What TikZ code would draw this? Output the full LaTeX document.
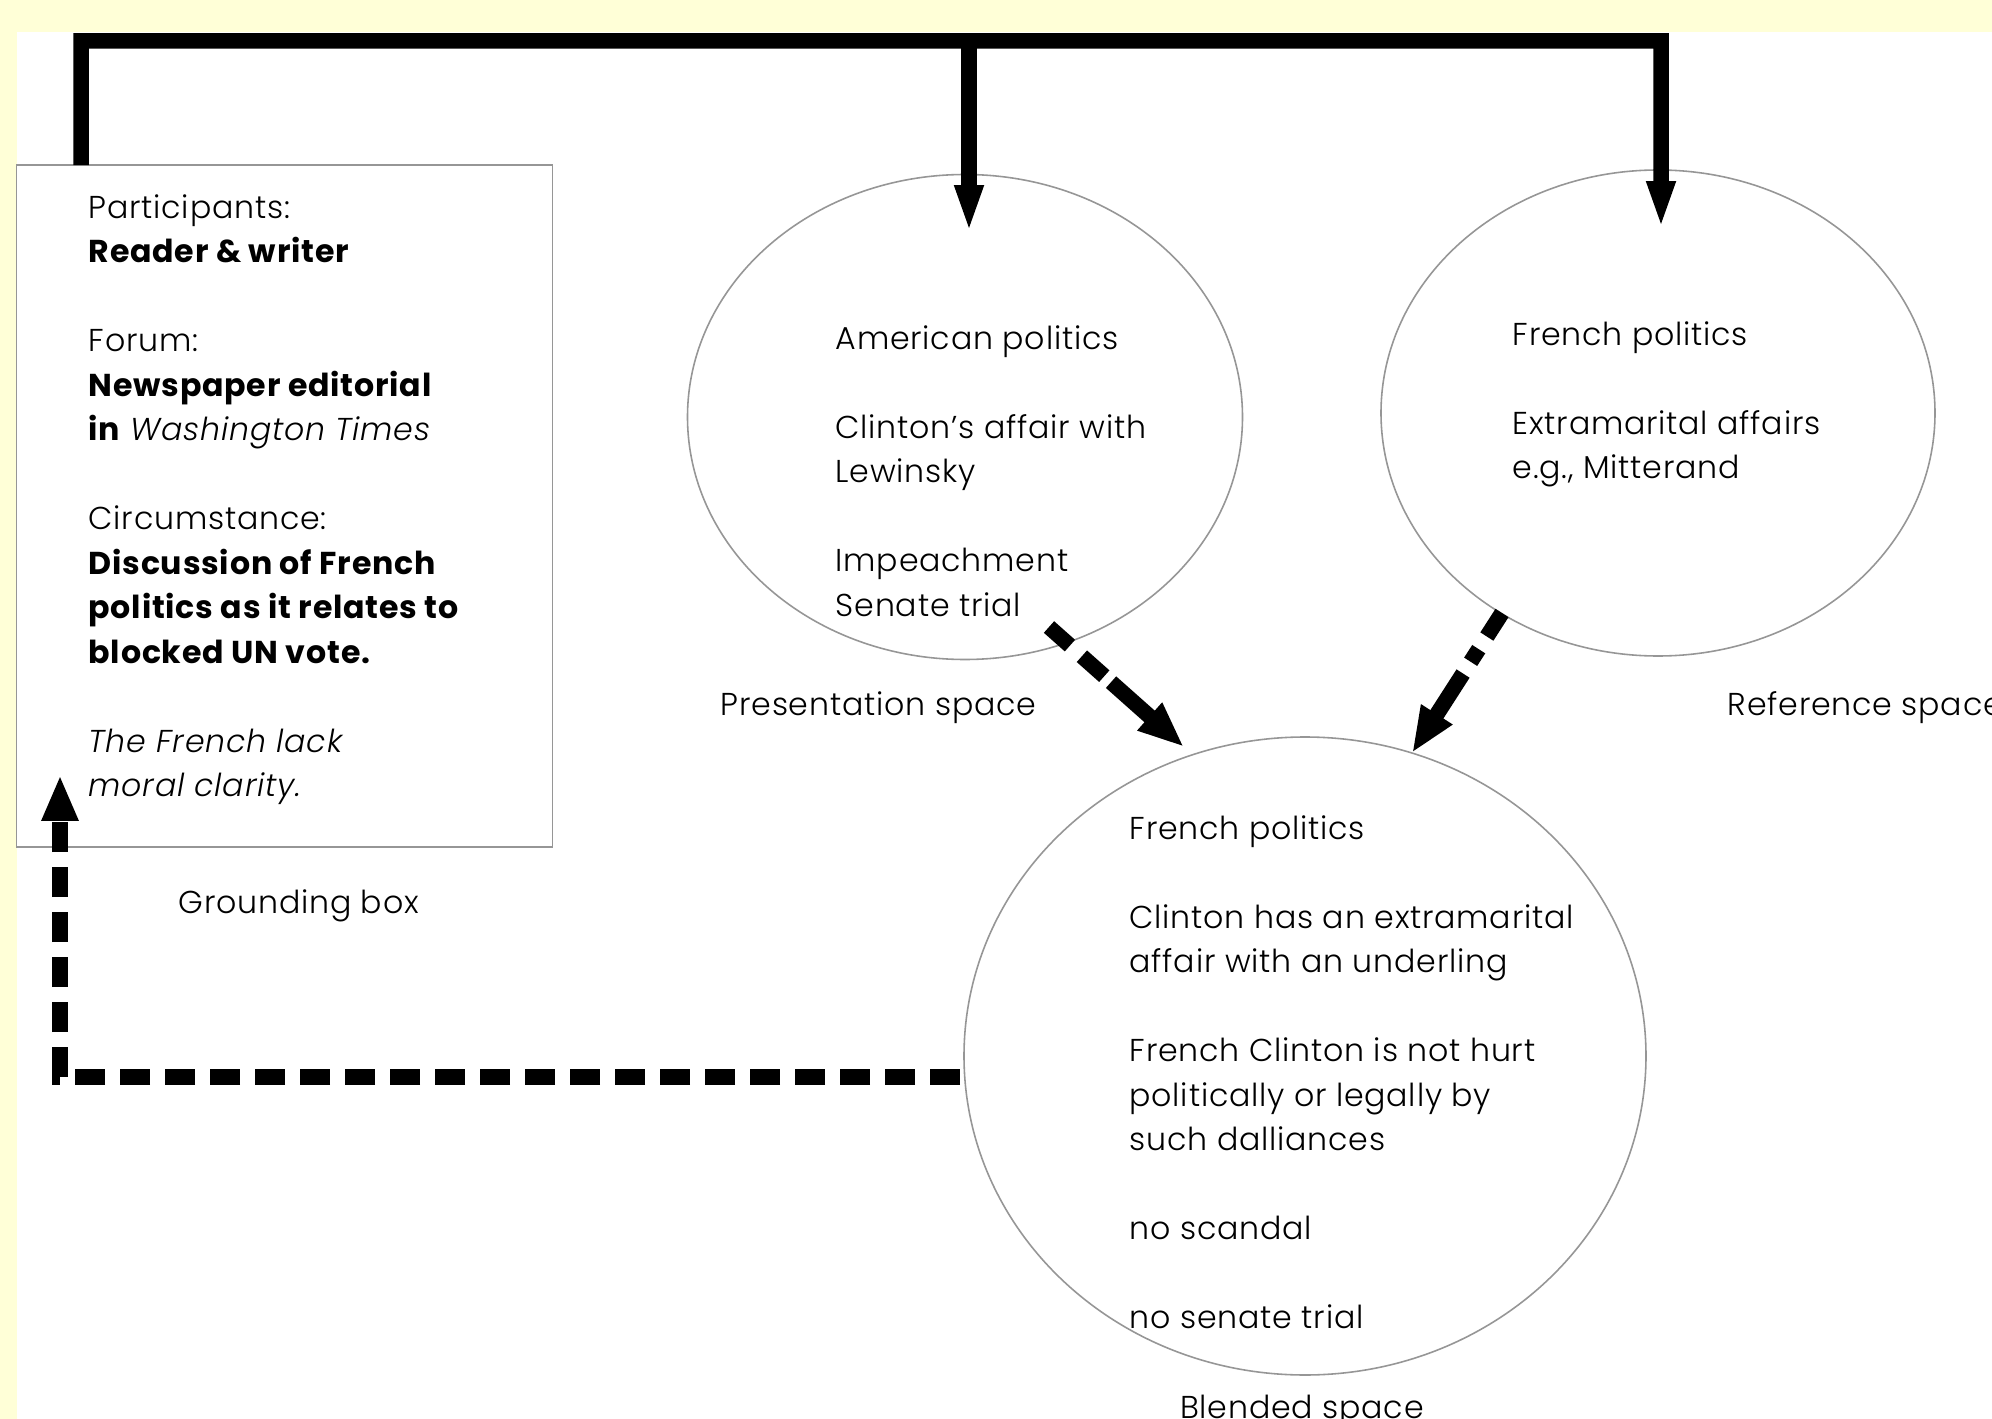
\documentclass[tikz,border=0pt]{standalone}
\usepackage{fontspec}
\setmainfont{Poppins}[LetterSpace=2.5, UprightFont=* Light, ItalicFont=* Light Italic, BoldFont=* Bold]
\usetikzlibrary{arrows.meta,shapes.geometric}
\definecolor{pagebg}{RGB}{255,255,215}
\definecolor{rimgray}{RGB}{150,150,150}
\tikzset{
  space/.style={draw=rimgray, line width=0.45pt, ellipse, inner sep=0pt, outer sep=0pt},
  txt/.style={font=\fontsize{9}{12.66}\selectfont, align=left, inner sep=0pt, anchor=north west},
  caption/.style={font=\fontsize{9}{12.66}\selectfont, inner sep=0pt, anchor=base west},
  feed/.style={line width=1.55mm, -{Triangle[length=4.8mm,width=2.6mm]}},
  back/.style={line width=1.55mm, -{Triangle[length=4.6mm,width=3.4mm]}}
}

\begin{document}
\begin{tikzpicture}[x=0.1mm, y=-0.1mm]
\clip (0,0) rectangle (1992,1419);
\fill[pagebg] (0,0) rectangle (1992,1419);
\fill[white] (17,32) rectangle (1992,1419);

% grounding box and the three spaces
\node[draw=rimgray, line width=0.45pt, minimum width=53.6mm, minimum height=68.2mm, inner sep=0pt, outer sep=0pt] (ground) at (284.5,506) {};
\node[space, minimum width=55.5mm, minimum height=48.5mm] (pres) at (965,417) {};
\node[space, minimum width=55.4mm, minimum height=48.6mm] (ref) at (1658,413) {};
\node[space, minimum width=68.2mm, minimum height=63.8mm] (blend) at (1305,1056) {};

\node[txt] (gtext) at (88,194) {Participants:\\
\textbf{Reader \& writer}\\[12.66pt]
Forum:\\
\textbf{Newspaper editorial}\\
\textbf{in} \textit{Washington Times}\\[12.66pt]
Circumstance:\\
\textbf{Discussion of French}\\
\textbf{politics as it relates to}\\
\textbf{blocked UN vote.}\\[12.66pt]
\textit{The French lack}\\
\textit{moral clarity.}};
\node[txt] (ptext) at (835,325) {American politics\\[12.66pt]
Clinton’s affair with\\
Lewinsky\\[12.66pt]
Impeachment\\
Senate trial};
\node[txt] (rtext) at (1512,321) {French politics\\[12.66pt]
Extramarital affairs\\
e.g., Mitterand};
\node[txt] (btext) at (1129,815) {French politics\\[12.66pt]
Clinton has an extramarital\\
affair with an underling\\[12.66pt]
French Clinton is not hurt\\
politically or legally by\\
such dalliances\\[12.66pt]
no scandal\\[12.66pt]
no senate trial};

\node[caption] (glabel) at (178,913) {Grounding box};
\node[caption] (plabel) at (720,715) {Presentation space};
\node[caption] (rlabel) at (1727,715) {Reference space};
\node[caption, anchor=base] (blabel) at (1302,1418) {Blended space};

% connectors
\coordinate (bar) at (81,41);
\coordinate (ptip) at ([shift={(4,58.5)}]pres.north);
\draw[feed] ([shift={(64.5,0)}]ground.north west) -- (bar) -| ([shift={(3,59)}]ref.north);
\draw[feed] (bar -| ptip) -- (ptip);
\draw[back, dash pattern=on 2.8mm off 1.6mm on 3mm off 0.9mm on 20mm] ([shift={(84,210)}]pres.center) -- ([shift={(-121,-309)}]blend.center);
\draw[back, dash pattern=on 2.8mm off 1.5mm on 1.5mm off 1.4mm on 20mm] ([shift={(-156,200)}]ref.center) -- ([shift={(107,-303)}]blend.center);
\coordinate (bl) at ([shift={(-340,21)}]blend.center);
\draw[back, dash pattern=on 3mm off 1.5mm, dash phase=4mm] (bl) -| ([shift={(43.5,-72)}]ground.south west);
\end{tikzpicture}
\end{document}
